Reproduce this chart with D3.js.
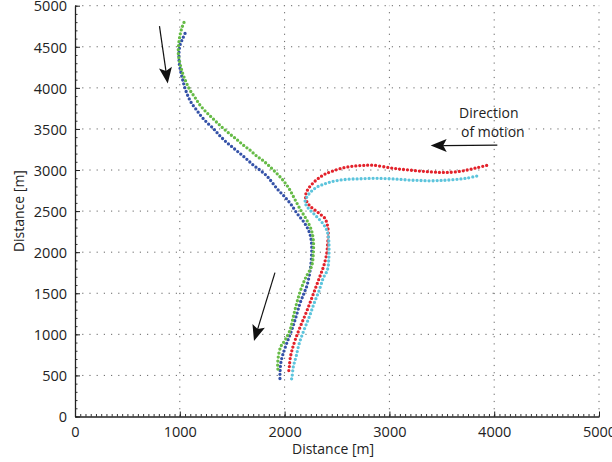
<!DOCTYPE html>
<html>
<head>
<meta charset="utf-8">
<script src="https://cdn.jsdelivr.net/npm/d3@7/dist/d3.min.js"></script>
<style>
  body { margin: 0; background: #fff; }
  text { font-family: "Open Sans", sans-serif; fill: #222; }
</style>
</head>
<body>
<div id="chart"></div>
<script>
// tick values
var xTicks = [0, 1000, 2000, 3000, 4000, 5000];
var yTicks = [0, 500, 1000, 1500, 2000, 2500, 3000, 3500, 4000, 4500, 5000];

// tracks, [x, y] in metres
var blueTrack = [[1050,4662],[1028,4601],[1002,4519],[992,4418],[995,4297],[1009,4195],[1028,4094],[1050,3993],
  [1081,3891],[1114,3810],[1161,3729],[1209,3647],[1262,3574],[1320,3506],[1377,3424],[1441,3343],[1505,3275],
  [1574,3202],[1638,3133],[1701,3060],[1765,2999],[1829,2929],[1877,2856],[1930,2770],[2000,2675],[2062,2580],
  [2120,2470],[2190,2355],[2238,2235],[2257,2107],[2258,1985],[2245,1790],[2215,1600],[2185,1500],[2147,1377],
  [2109,1214],[2068,1052],[2020,891],[1982,748],[1963,647],[1956,526],[1956,444]];

var greenTrack = [[1040,4796],[1018,4723],[1002,4641],[990,4540],[986,4418],[1002,4297],[1028,4175],[1059,4073],
  [1097,3972],[1145,3883],[1193,3790],[1250,3708],[1304,3640],[1358,3574],[1415,3506],[1479,3437],[1543,3372],
  [1606,3303],[1670,3242],[1734,3169],[1797,3112],[1861,3039],[1925,2959],[1985,2875],[2040,2780],[2095,2650],
  [2150,2520],[2210,2395],[2255,2270],[2274,2147],[2274,1985],[2258,1830],[2205,1700],[2155,1545],[2115,1377],
  [2083,1214],[2052,1052],[2004,930],[1963,849],[1940,727],[1934,606],[1940,545]];

var redTrack = [[3928,3056],[3833,3027],[3738,2999],[3642,2978],[3547,2971],[3483,2971],[3387,2978],[3292,2987],
  [3197,2999],[3101,3011],[3006,3027],[2846,3058],[2751,3056],[2656,3047],[2560,3027],[2465,2990],[2385,2950],
  [2322,2898],[2268,2837],[2228,2776],[2205,2718],[2200,2667],[2213,2613],[2242,2561],[2290,2512],[2338,2464],
  [2385,2411],[2408,2330],[2417,2229],[2411,2107],[2402,1985],[2376,1843],[2338,1709],[2295,1563],[2252,1417],
  [2204,1259],[2152,1101],[2104,943],[2071,809],[2054,712],[2045,606],[2039,545]];

var cyanTrack = [[3833,2926],[3738,2901],[3642,2886],[3547,2877],[3483,2873],[3387,2869],[3292,2873],[3197,2877],
  [3101,2886],[3006,2893],[2910,2898],[2815,2898],[2719,2893],[2624,2889],[2529,2877],[2433,2853],[2369,2825],
  [2312,2796],[2268,2755],[2236,2715],[2211,2667],[2195,2613],[2206,2570],[2236,2521],[2281,2464],[2331,2399],
  [2376,2330],[2408,2248],[2421,2147],[2424,2026],[2421,1904],[2408,1782],[2369,1685],[2331,1539],[2281,1377],
  [2236,1214],[2185,1052],[2140,891],[2109,727],[2083,606],[2071,484],[2064,444]];

// annotation arrows: [fromX, fromY, toX, toY]
var arrows = [[806,4751,885,4054],[1908,1752,1708,918],[4030,3303,3394,3297]];
var noteLines = ["Direction", "of motion"];

var svgWidth = 612;
var svgHeight = 462;
var margin = {top: 5.7, right: 13, bottom: 45.5, left: 75};
var width = svgWidth - margin.left - margin.right;
var height = svgHeight - margin.top - margin.bottom;

var svg = d3.select("#chart").append("svg")
  .attr("width", svgWidth)
  .attr("height", svgHeight);

var chartGroup = svg.append("g")
  .attr("transform", `translate(${margin.left}, ${margin.top})`);

var xScale = d3.scaleLinear().domain([0, 5000]).range([0, width]);
var yScale = d3.scaleLinear().domain([0, 5000]).range([height, 0]);

// dotted grid
chartGroup.selectAll(".vgrid")
  .data(xTicks.filter(d => d > 0))
  .enter().append("line")
  .attr("x1", d => xScale(d)).attr("x2", d => xScale(d))
  .attr("y1", height).attr("y2", 0)
  .attr("stroke", "#666").attr("stroke-width", 1)
  .attr("stroke-dasharray", "1.2 6");

chartGroup.selectAll(".hgrid")
  .data(yTicks.filter(d => d > 0))
  .enter().append("line")
  .attr("x1", 0).attr("x2", width)
  .attr("y1", d => yScale(d)).attr("y2", d => yScale(d))
  .attr("stroke", "#666").attr("stroke-width", 1)
  .attr("stroke-dasharray", "1.2 6");

// minor ticks
chartGroup.append("g")
  .attr("transform", `translate(0, ${height})`)
  .call(d3.axisBottom(xScale).tickValues(d3.range(0, 5001, 50)).tickSize(-2.5).tickFormat(""))
  .call(g => g.select(".domain").remove())
  .selectAll("line").attr("stroke", "#333");

chartGroup.append("g")
  .call(d3.axisLeft(yScale).tickValues(d3.range(0, 5001, 100)).tickSize(-2.5).tickFormat(""))
  .call(g => g.select(".domain").remove())
  .selectAll("line").attr("stroke", "#333");

// main axes
var fmt = d3.format("d");
var bottomAxis = d3.axisBottom(xScale).tickValues(xTicks).tickFormat(fmt)
  .tickSize(-5).tickSizeOuter(0).tickPadding(10);
var leftAxis = d3.axisLeft(yScale).tickValues(yTicks).tickFormat(fmt)
  .tickSize(-5).tickSizeOuter(0).tickPadding(8);

var xAxisG = chartGroup.append("g")
  .attr("transform", `translate(0, ${height})`)
  .call(bottomAxis);
var yAxisG = chartGroup.append("g").call(leftAxis);

[xAxisG, yAxisG].forEach(function(g) {
  g.select(".domain").attr("stroke", "#222").attr("stroke-width", 1.3);
  g.selectAll(".tick line").attr("stroke", "#222").attr("stroke-width", 1);
  g.selectAll(".tick text")
    .attr("font-size", 14.5)
    .attr("font-family", '"Open Sans", sans-serif')
    .attr("fill", "#222");
});
yAxisG.selectAll(".tick text").attr("dy", "0.36em");

// tracks drawn as dotted curves
var line = d3.line()
  .x(d => xScale(d[0]))
  .y(d => yScale(d[1]))
  .curve(d3.curveCatmullRom);

var tracks = [
  {data: blueTrack, color: "#3552a8"},
  {data: greenTrack, color: "#66bb47"},
  {data: redTrack, color: "#e3222b"},
  {data: cyanTrack, color: "#5cc4dc"}
];

tracks.forEach(function(t) {
  chartGroup.append("path")
    .datum(t.data)
    .attr("d", line)
    .attr("fill", "none")
    .attr("stroke", t.color)
    .attr("stroke-width", 3.3)
    .attr("stroke-linecap", "round")
    .attr("stroke-dasharray", "0 4");
});

// arrows
arrows.forEach(function(a) {
  var x1 = xScale(a[0]), y1 = yScale(a[1]), x2 = xScale(a[2]), y2 = yScale(a[3]);
  var len = Math.hypot(x2 - x1, y2 - y1);
  var ux = (x2 - x1) / len, uy = (y2 - y1) / len;
  var px = -uy, py = ux;
  var headLen = 16, halfW = 6.5, notch = 12.5;
  chartGroup.append("line")
    .attr("x1", x1).attr("y1", y1)
    .attr("x2", x2 - ux * notch).attr("y2", y2 - uy * notch)
    .attr("stroke", "#111").attr("stroke-width", 1.2);
  var pts = [
    [x2, y2],
    [x2 - ux * headLen + px * halfW, y2 - uy * headLen + py * halfW],
    [x2 - ux * notch, y2 - uy * notch],
    [x2 - ux * headLen - px * halfW, y2 - uy * headLen - py * halfW]
  ];
  chartGroup.append("polygon")
    .attr("points", pts.map(p => p.join(",")).join(" "))
    .attr("fill", "#111");
});

// note text
chartGroup.append("text")
  .attr("x", xScale(3664)).attr("y", yScale(3631))
  .attr("font-size", 14)
  .text(noteLines[0]);
chartGroup.append("text")
  .attr("x", xScale(3683)).attr("y", yScale(3404))
  .attr("font-size", 14)
  .text(noteLines[1]);

// axis labels
chartGroup.append("text")
  .attr("transform", `translate(${xScale(2500) - 4}, ${height + 37})`)
  .attr("text-anchor", "middle")
  .attr("font-size", 14)
  .text("Distance [m]");

chartGroup.append("text")
  .attr("transform", `translate(${24 - margin.left}, ${yScale(2500)}) rotate(-90)`)
  .attr("text-anchor", "middle")
  .attr("font-size", 14)
  .text("Distance [m]");
</script>
</body>
</html>
